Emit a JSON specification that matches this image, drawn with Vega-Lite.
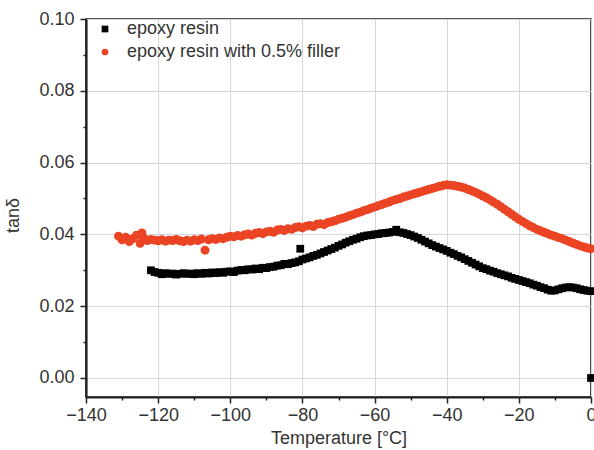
{
  "$schema": "https://vega.github.io/schema/vega-lite/v6.json",
  "width": 505,
  "height": 378,
  "autosize": {"type": "none"},
  "padding": {"left": 86, "top": 19, "right": 3, "bottom": 53},
  "background": "white",
  "config": {
    "font": "Liberation Sans",
    "view": {"stroke": "#222", "strokeWidth": 1.6}
  },
  "datasets": {
    "black": [
      [-122,0.0300],[-121,0.0295],[-120,0.0293],[-119,0.0289],[-118,0.0292],[-117,0.0290],[-116,0.0291],[-115,0.0288],[-114,0.0290],[-113,0.0292],[-112,0.0290],[-111,0.0291],[-110,0.0289],[-109,0.0292],[-108,0.0290],[-107,0.0293],[-106,0.0291],[-105,0.0294],[-104,0.0292],[-103,0.0295],[-102,0.0293],[-101,0.0296],[-100,0.0297],[-99,0.0295],[-98,0.0299],[-97,0.0301],[-96,0.0300],[-95,0.0303],[-94,0.0302],[-93,0.0305],[-92,0.0303],[-91,0.0307],[-90,0.0306],[-89,0.0309],[-88,0.0310],[-87,0.0313],[-86,0.0314],[-85,0.0318],[-84,0.0317],[-83,0.0320],[-82,0.0322],[-81,0.0325],[-80.6,0.0360],[-80,0.0330],[-79,0.0333],[-78,0.0336],[-77,0.0340],[-76,0.0343],[-75,0.0347],[-74,0.0351],[-73,0.0355],[-72,0.0359],[-71,0.0363],[-70,0.0368],[-69,0.0372],[-68,0.0377],[-67,0.0381],[-66,0.0385],[-65,0.0388],[-64,0.0392],[-63,0.0395],[-62,0.0397],[-61,0.0398],[-60,0.0400],[-59,0.0401],[-58,0.0403],[-57,0.0404],[-56,0.0405],[-55,0.0407],[-54,0.0413],[-53,0.0406],[-52,0.0404],[-51,0.0401],[-50,0.0398],[-49,0.0394],[-48,0.0390],[-47,0.0385],[-46,0.0380],[-45,0.0375],[-44,0.0370],[-43,0.0366],[-42,0.0362],[-41,0.0358],[-40,0.0354],[-39,0.0349],[-38,0.0345],[-37,0.0340],[-36,0.0336],[-35,0.0331],[-34,0.0326],[-33,0.0321],[-32,0.0316],[-31,0.0311],[-30,0.0306],[-29,0.0303],[-28,0.0299],[-27,0.0296],[-26,0.0292],[-25,0.0289],[-24,0.0286],[-23,0.0283],[-22,0.0279],[-21,0.0276],[-20,0.0273],[-19,0.0270],[-18,0.0267],[-17,0.0264],[-16,0.0260],[-15,0.0257],[-14,0.0253],[-13,0.0250],[-12,0.0246],[-11,0.0243],[-10,0.0244],[-9,0.0247],[-8,0.0250],[-7,0.0252],[-6,0.0253],[-5,0.0252],[-4,0.0250],[-3,0.0247],[-2,0.0245],[-1,0.0243],[0,0.0242],[0,0.0]
    ],
    "red": [
      [-131,0.0395],[-130,0.0385],[-129,0.0392],[-128,0.0380],[-127,0.0388],[-126,0.0398],[-125,0.0375],[-124.5,0.0404],[-124,0.0390],[-123,0.0383],[-122,0.0386],[-121,0.0384],[-120,0.0382],[-119,0.0385],[-118,0.0381],[-117,0.0384],[-116,0.0383],[-115,0.0386],[-114,0.0382],[-113,0.0380],[-112,0.0384],[-111,0.0381],[-110,0.0385],[-109,0.0383],[-108,0.0387],[-107,0.0356],[-106,0.0385],[-105,0.0388],[-104,0.0386],[-103,0.0390],[-102,0.0388],[-101,0.0392],[-100,0.0395],[-99,0.0393],[-98,0.0397],[-97,0.0395],[-96,0.0399],[-95,0.0401],[-94,0.0398],[-93,0.0403],[-92,0.0405],[-91,0.0402],[-90,0.0407],[-89,0.0409],[-88,0.0406],[-87,0.0412],[-86,0.0414],[-85,0.0411],[-84,0.0416],[-83,0.0414],[-82,0.0419],[-81,0.0421],[-80,0.0418],[-79,0.0423],[-78,0.0425],[-77,0.0422],[-76,0.0428],[-75,0.0430],[-74,0.0427],[-73,0.0433],[-72,0.0435],[-71,0.0438],[-70,0.0442],[-69,0.0445],[-68,0.0448],[-67,0.0452],[-66,0.0455],[-65,0.0459],[-64,0.0462],[-63,0.0466],[-62,0.0469],[-61,0.0473],[-60,0.0476],[-59,0.0480],[-58,0.0483],[-57,0.0487],[-56,0.0490],[-55,0.0494],[-54,0.0497],[-53,0.0500],[-52,0.0504],[-51,0.0507],[-50,0.0510],[-49,0.0513],[-48,0.0516],[-47,0.0519],[-46,0.0522],[-45,0.0525],[-44,0.0528],[-43,0.0531],[-42,0.0534],[-41,0.0536],[-40,0.0538],[-39,0.0537],[-38,0.0536],[-37,0.0534],[-36,0.0532],[-35,0.0529],[-34,0.0525],[-33,0.0521],[-32,0.0517],[-31,0.0512],[-30,0.0507],[-29,0.0502],[-28,0.0496],[-27,0.0490],[-26,0.0484],[-25,0.0477],[-24,0.0470],[-23,0.0463],[-22,0.0456],[-21,0.0449],[-20,0.0442],[-19,0.0436],[-18,0.0430],[-17,0.0424],[-16,0.0419],[-15,0.0414],[-14,0.0410],[-13,0.0406],[-12,0.0402],[-11,0.0398],[-10,0.0395],[-9,0.0391],[-8,0.0388],[-7,0.0384],[-6,0.0380],[-5,0.0376],[-4,0.0372],[-3,0.0368],[-2,0.0365],[-1,0.0362],[0,0.0360]
    ]
  },
  "layer": [
    {
      "data": {"name": "black"},
      "transform": [
        {"calculate": "'epoxy resin'", "as": "series"},
        {"calculate": "datum[0]", "as": "T"},
        {"calculate": "datum[1]", "as": "tan"}
      ],
      "mark": {"type": "point", "filled": true, "opacity": 1, "size": 60},
      "encoding": {}
    },
    {
      "data": {"name": "red"},
      "transform": [
        {"calculate": "'epoxy resin with 0.5% filler'", "as": "series"},
        {"calculate": "datum[0]", "as": "T"},
        {"calculate": "datum[1]", "as": "tan"}
      ],
      "mark": {"type": "point", "filled": true, "opacity": 1, "size": 80},
      "encoding": {}
    }
  ],
  "encoding": {
    "x": {
      "field": "T", "type": "quantitative",
      "scale": {"domain": [-140, 0], "nice": false, "zero": false},
      "axis": {
        "title": "Temperature [°C]",
        "values": [-140,-130,-120,-110,-100,-90,-80,-70,-60,-50,-40,-30,-20,-10,0],
        "labelExpr": "datum.value % 20 === 0 ? datum.label : ''",
        "format": "d",
        "grid": true,
        "gridColor": "#d6d6d6",
        "gridWidth": 1,
        "gridOpacity": {"condition": {"test": "datum.value % 20 !== 0", "value": 0}, "value": 1},
        "tickSize": {"condition": {"test": "datum.value % 20 !== 0", "value": 3}, "value": 6},
        "tickColor": "#222",
        "tickWidth": 1.5,
        "domainColor": "#222",
        "domainWidth": 2.2,
        "labelFontSize": 18,
        "labelColor": "#333",
        "labelPadding": 3,
        "labelFlush": false,
        "labelOverlap": false,
        "titleFontSize": 18,
        "titleFontWeight": "normal",
        "titleColor": "#333",
        "titlePadding": 5
      }
    },
    "y": {
      "field": "tan", "type": "quantitative",
      "scale": {"domain": [-0.0053, 0.1], "nice": false, "zero": false},
      "axis": {
        "title": "tanδ",
        "values": [0,0.01,0.02,0.03,0.04,0.05,0.06,0.07,0.08,0.09,0.1],
        "labelExpr": "round(datum.value*100) % 2 === 0 ? format(datum.value, '.2f') : ''",
        "grid": true,
        "gridColor": "#d6d6d6",
        "gridWidth": 1,
        "gridOpacity": {"condition": {"test": "round(datum.value*100) % 2 !== 0", "value": 0}, "value": 1},
        "tickSize": {"condition": {"test": "round(datum.value*100) % 2 !== 0", "value": 3}, "value": 6},
        "tickColor": "#222",
        "tickWidth": 1.5,
        "domainColor": "#222",
        "domainWidth": 2.2,
        "labelFontSize": 18,
        "labelColor": "#333",
        "labelPadding": 6,
        "labelFlush": false,
        "labelOverlap": false,
        "titleFontSize": 18,
        "titleFontWeight": "normal",
        "titleColor": "#333",
        "titlePadding": 16,
        "titleY": 196
      }
    },
    "color": {
      "field": "series", "type": "nominal",
      "scale": {"domain": ["epoxy resin", "epoxy resin with 0.5% filler"], "range": ["#000000", "#ea4424"]},
      "legend": {
        "title": null,
        "orient": "none",
        "legendX": 10,
        "legendY": 1,
        "labelFontSize": 18,
        "labelColor": "#333",
        "labelLimit": 400,
        "labelOffset": 13,
        "symbolSize": 45,
        "rowPadding": 5,
        "symbolStrokeWidth": 0
      }
    },
    "shape": {
      "field": "series", "type": "nominal",
      "scale": {"domain": ["epoxy resin", "epoxy resin with 0.5% filler"], "range": ["square", "circle"]}
    }
  }
}
